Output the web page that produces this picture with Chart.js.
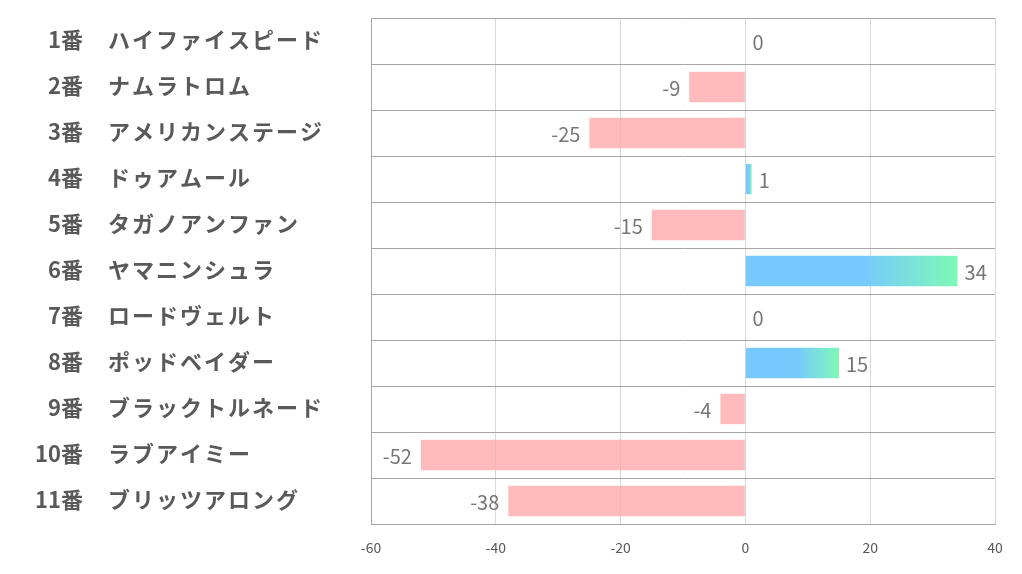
<!DOCTYPE html>
<html>
<head>
<meta charset="utf-8">
<script src="https://cdn.jsdelivr.net/npm/chart.js@4.4.1/dist/chart.umd.min.js"></script>
<style>
html,body{margin:0;padding:0;background:#fff;}
#wrap{width:1022px;height:574px;position:relative;}
</style>
</head>
<body>
<div id="wrap"><canvas id="c" width="1022" height="574"></canvas></div>
<script>
const numbers = ["1番","2番","3番","4番","5番","6番","7番","8番","9番","10番","11番"];
const names = ["ハイファイスピード","ナムラトロム","アメリカンステージ","ドゥアムール","タガノアンファン","ヤマニンシュラ","ロードヴェルト","ポッドベイダー","ブラックトルネード","ラブアイミー","ブリッツアロング"];
const values = [0,-9,-25,1,-15,34,0,15,-4,-52,-38];
const xTicks = [-60,-40,-20,0,20,40];

const labelFont = 'bold 22px "Noto Sans CJK JP", sans-serif';
const valueFont = '20px "Noto Sans CJK JP", "Open Sans", sans-serif';

const labelPlugin = {
  id: 'labels',
  afterDraw(chart) {
    const ctx = chart.ctx;
    const y = chart.scales.y;
    ctx.save();
    ctx.textBaseline = 'middle';
    ctx.fillStyle = '#595959';
    ctx.font = labelFont;
    numbers.forEach((n, i) => {
      const py = y.getPixelForValue(i) - 1;
      ctx.textAlign = 'right';
      try { ctx.letterSpacing = '0px'; } catch(e) {}
      ctx.fillText(n, 83, py);
      ctx.textAlign = 'left';
      try { ctx.letterSpacing = '2px'; } catch(e) {}
      ctx.fillText(names[i], 108, py);
    });
    try { ctx.letterSpacing = '0px'; } catch(e) {}
    ctx.font = valueFont;
    ctx.fillStyle = '#767676';
    const meta = chart.getDatasetMeta(0);
    meta.data.forEach((bar, i) => {
      const v = values[i];
      const py = bar.y + 1;
      if (v < 0) {
        ctx.textAlign = 'right';
        ctx.fillText(String(v), bar.x - 9, py);
      } else {
        ctx.textAlign = 'left';
        ctx.fillText(String(v), bar.x + 7, py);
      }
    });
    ctx.restore();
  }
};

new Chart(document.getElementById('c'), {
  type: 'bar',
  data: {
    labels: names,
    datasets: [{
      data: values,
      barPercentage: 0.66,
      categoryPercentage: 1.0,
      borderWidth: 0,
      backgroundColor(context) {
        const chart = context.chart;
        const v = context.raw;
        if (v < 0) return 'rgba(255,170,170,0.8)';
        const xs = chart.scales.x;
        if (!chart.chartArea || !xs) return '#78c9fe';
        const x0 = xs.getPixelForValue(0);
        const x1 = xs.getPixelForValue(v);
        if (x1 - x0 < 1) return '#78c9fe';
        const g = chart.ctx.createLinearGradient(x0, 0, x1, 0);
        g.addColorStop(0, '#78c9fe');
        g.addColorStop(0.55, '#78c9fe');
        g.addColorStop(1, '#7ef9b6');
        return g;
      }
    }]
  },
  options: {
    indexAxis: 'y',
    responsive: false,
    animation: false,
    devicePixelRatio: 1,
    layout: { padding: { left: 371, right: 27, top: 18, bottom: 0 } },
    plugins: { legend: { display: false }, tooltip: { enabled: false } },
    scales: {
      x: {
        min: -60, max: 40,
        afterBuildTicks(s) { s.ticks = xTicks.map(v => ({ value: v })); },
        afterFit(s) { s.height = 50; },
        grid: { color: '#d9d9d9', lineWidth: 1, drawTicks: false },
        border: { color: '#a6a6a6', width: 1 },
        ticks: { color: '#595959', font: { family: '"Noto Sans CJK JP", sans-serif', size: 14 }, padding: 15 }
      },
      y: {
        ticks: { display: false },
        afterFit(s) { s.width = 0; },
        grid: { color: '#a6a6a6', lineWidth: 1, drawTicks: false, offset: true },
        border: { color: '#a6a6a6', width: 1 }
      }
    }
  },
  plugins: [labelPlugin]
});
</script>
</body>
</html>
